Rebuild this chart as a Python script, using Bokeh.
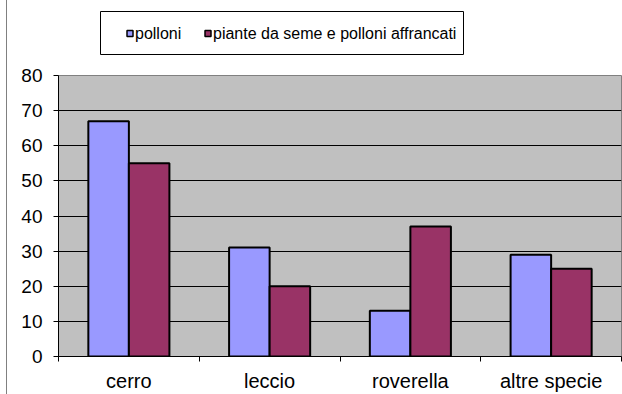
from bokeh.plotting import figure
from bokeh.layouts import row, column
from bokeh.models import Range1d, FixedTicker, ColumnDataSource, Spacer
from bokeh.core.properties import value
from bokeh.embed import file_html
from bokeh.resources import INLINE

# Data
species = ["cerro", "leccio", "roverella", "altre specie"]
polloni = [67, 31, 13, 29]
piante = [55, 20, 37, 25]
series_names = ["polloni", "piante da seme e polloni affrancati"]
y_ticks = [0, 10, 20, 30, 40, 50, 60, 70, 80]

FONT = "Liberation Sans"
COLORS = ["#9999FF", "#993366"]
BAR_W = 0.288
centers = [i + 0.5 for i in range(len(species))]

src = ColumnDataSource(dict(
    x1=[c - BAR_W / 2 for c in centers],
    x2=[c + BAR_W / 2 for c in centers],
    polloni=polloni,
    piante=piante,
))

# ---- main chart -------------------------------------------------------
p = figure(width=615, height=334, output_backend="svg", toolbar_location=None,
           x_range=Range1d(0, len(species)), y_range=Range1d(0, 80),
           min_border_left=51, min_border_right=1,
           min_border_top=15, min_border_bottom=36)

p.background_fill_color = "#C0C0C0"
p.border_fill_color = "white"
p.outline_line_color = "#808080"
p.outline_line_width = 1

p.vbar(x="x1", top="polloni", width=BAR_W, source=src,
       fill_color=COLORS[0], line_color="black", line_width=2)
p.vbar(x="x2", top="piante", width=BAR_W, source=src,
       fill_color=COLORS[1], line_color="black", line_width=2)

# y axis and horizontal grid
p.yaxis.ticker = FixedTicker(ticks=y_ticks)
p.yaxis.major_tick_out = 5
p.yaxis.major_tick_in = 0
p.yaxis.minor_tick_out = 0
p.yaxis.minor_tick_in = 0
p.yaxis.major_label_standoff = 11
p.yaxis.major_label_text_font = FONT
p.yaxis.major_label_text_font_size = "19px"
p.yaxis.major_label_text_color = "black"
p.yaxis.axis_line_color = "black"
p.yaxis.major_tick_line_color = "black"

p.ygrid.ticker = FixedTicker(ticks=y_ticks)
p.ygrid.grid_line_color = "black"
p.ygrid.grid_line_width = 1
p.xgrid.visible = False

# x axis: names at category centres, tick marks at category boundaries
p.xaxis.ticker = FixedTicker(ticks=centers, minor_ticks=list(range(len(species) + 1)))
p.xaxis.major_label_overrides = {c: s for c, s in zip(centers, species)}
p.xaxis.major_tick_line_color = None
p.xaxis.major_tick_out = 5
p.xaxis.major_tick_in = 0
p.xaxis.minor_tick_line_color = "black"
p.xaxis.minor_tick_out = 5
p.xaxis.minor_tick_in = 0
p.xaxis.major_label_standoff = 8
p.xaxis.major_label_text_font = FONT
p.xaxis.major_label_text_font_size = "20px"
p.xaxis.major_label_text_color = "black"
p.xaxis.axis_line_color = "black"

# ---- legend strip above the chart (page pixel coordinates) ---------------
# same side borders as the chart, so the column keeps both frames aligned
hdr = figure(width=615, height=60, output_backend="svg", toolbar_location=None,
             x_range=Range1d(58, 621), y_range=Range1d(60, 0),
             min_border_left=51, min_border_right=1,
             min_border_top=0, min_border_bottom=0)
hdr.axis.visible = False
hdr.grid.visible = False
hdr.outline_line_color = None
hdr.background_fill_color = "white"
hdr.border_fill_color = "white"

hdr.quad(left=[100], right=[463], top=[11], bottom=[54],
         fill_color="white", line_color="black", line_width=1)

key_x = [129.5, 207.5]
key_y = [33, 33]
hdr.rect(x=key_x, y=key_y, width=6, height=6,
         fill_color=COLORS, line_color="black", line_width=1.5)
hdr.text(x=[k + 5 for k in key_x], y=key_y, text=series_names,
         text_font=value(FONT), text_font_size="16px", text_color="black",
         text_baseline="middle", text_align="left")

# thin frame line along the left edge of the page
edge = Spacer(width=1, height=394, styles={"background-color": "#808080"})
layout = row(Spacer(width=6, height=394), edge, column(hdr, p, spacing=0), spacing=0)

open("out.html", "w").write(file_html(layout, INLINE))
